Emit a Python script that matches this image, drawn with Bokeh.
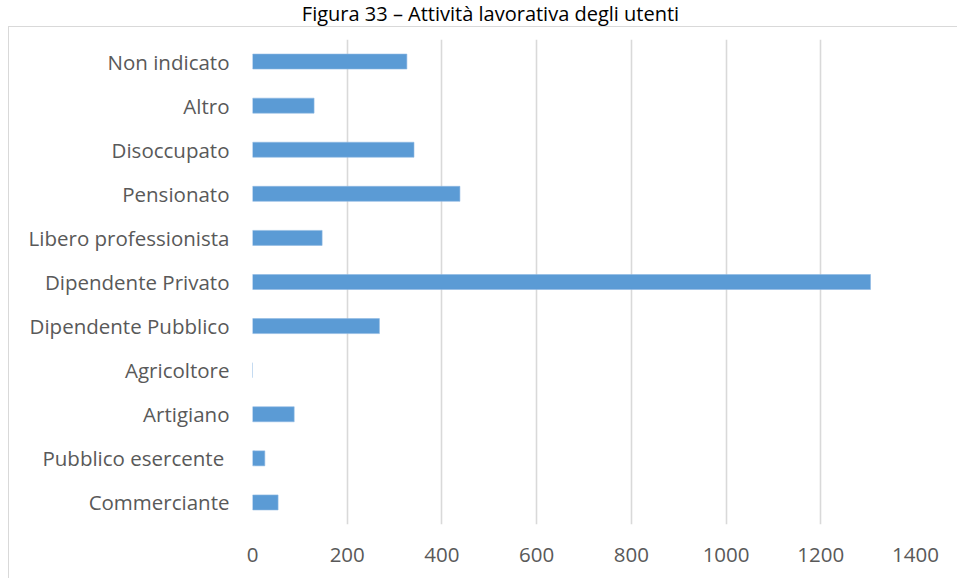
import re
from bokeh.plotting import figure
from bokeh.models import (FactorRange, Range1d, FixedTicker, Label, ColumnDataSource,
                          InlineStyleSheet)
from bokeh.embed import file_html
from bokeh.resources import INLINE

# Data (bottom to top)
categories = [
    "Commerciante",
    "Pubblico esercente ",
    "Artigiano",
    "Agricoltore",
    "Dipendente Pubblico",
    "Dipendente Privato",
    "Libero professionista",
    "Pensionato",
    "Disoccupato",
    "Altro",
    "Non indicato",
]
values = [54, 26, 88, 0, 268, 1305, 147, 438, 341, 130, 326]
x_ticks = [0, 200, 400, 600, 800, 1000, 1200, 1400]
title_text = "Figura 33 – Attività lavorativa degli utenti"

FONT = "Open Sans"
TXT = "#595959"

source = ColumnDataSource(data=dict(cat=categories, val=values))

p = figure(
    width=957, height=578,
    y_range=FactorRange(factors=categories),
    x_range=Range1d(0, 1400),
    output_backend="svg", toolbar_location=None,
    min_border_left=252, min_border_right=42,
    min_border_top=39, min_border_bottom=54,
)
p.background_fill_color = "white"
p.border_fill_color = "white"
p.outline_line_color = None

p.hbar(y="cat", right="val", left=0, height=0.34, source=source,
       fill_color="#5b9bd5", line_color="#8fb9e3", line_width=0.6)

p.xaxis.ticker = FixedTicker(ticks=x_ticks)
p.xgrid.grid_line_color = "#d9d9d9"
p.xgrid.grid_line_width = 1.6
p.ygrid.grid_line_color = None

for ax in (p.xaxis[0], p.yaxis[0]):
    ax.axis_line_color = None
    ax.major_tick_line_color = None
    ax.minor_tick_line_color = None
    ax.major_tick_in = 0
    ax.major_tick_out = 0
    ax.major_label_text_font = FONT
    ax.major_label_text_font_size = "20.5px"
    ax.major_label_text_color = TXT

p.yaxis.major_label_standoff = 23
p.xaxis.major_label_standoff = 23

# caption above the chart area
title = Label(x=490, y=13, x_units="canvas", y_units="canvas", text=title_text,
              text_align="center", text_baseline="alphabetic",
              text_font=FONT, text_font_size="20px", text_color="#000000")
p.add_layout(title, "above")

# light grey outer chart border (left and top edges visible in the crop)
p.stylesheets = [InlineStyleSheet(css="""
:host { position: relative; }
:host::after {
  content: "";
  position: absolute;
  left: 8px; top: 26px; right: -6px; bottom: -6px;
  border-left: 1.5px solid #d9d9d9;
  border-top: 1.5px solid #d9d9d9;
  pointer-events: none;
  z-index: 5;
}
""")]

html = file_html(p, INLINE, title="Figura 33")
html = re.sub(r"<body([^>]*)>", r'<body\1 style="margin:0;overflow:hidden">', html, count=1)
open("out.html", "w").write(html)
